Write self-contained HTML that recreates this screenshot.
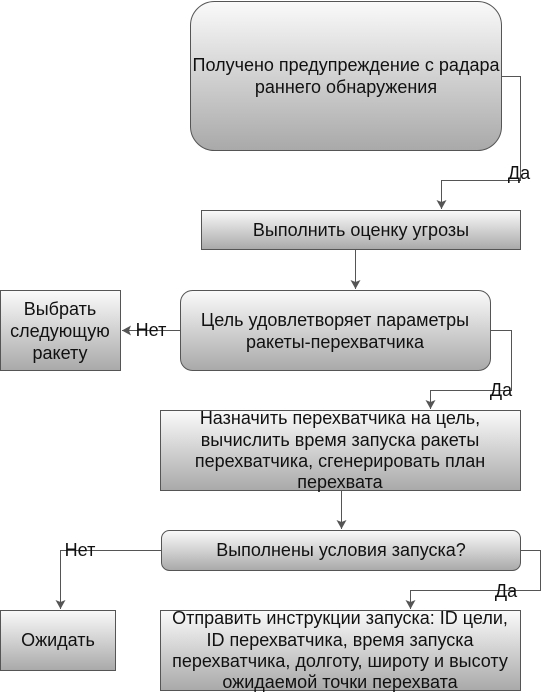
<!DOCTYPE html>
<html><head><meta charset="utf-8"><style>
html,body{margin:0;padding:0;background:#fff;}
svg{display:block;font-family:"Liberation Sans",Arial,sans-serif;}
text{font-size:18px;fill:#111;text-anchor:middle;}
</style></head><body>
<svg width="549" height="693" viewBox="0 0 549 693" xmlns="http://www.w3.org/2000/svg">
<defs>
<linearGradient id="g" x1="0" y1="0" x2="0" y2="1"><stop offset="0" stop-color="#fafafa"/><stop offset="1" stop-color="#a9a9a9"/></linearGradient>
<marker id="a" markerWidth="10" markerHeight="10" refX="9" refY="5" orient="auto" markerUnits="userSpaceOnUse"><path d="M0,0 L9,5 L0,10 L2,5 Z" fill="#555"/></marker>
</defs>
<g stroke="#555" stroke-width="1" fill="url(#g)">
<rect x="190.5" y="1.5" width="311" height="149" rx="24"/>
<rect x="201.5" y="210.5" width="319" height="39"/>
<rect x="180.5" y="290.5" width="310" height="80" rx="12"/>
<rect x="0.5" y="290.5" width="120" height="80"/>
<rect x="160.5" y="410.5" width="360" height="80"/>
<rect x="161.5" y="530.5" width="359" height="40" rx="8"/>
<rect x="0.5" y="610.5" width="115" height="60"/>
<rect x="160.5" y="610.5" width="360" height="80"/>
</g>
<g stroke="#555" stroke-width="1" fill="none">
<path d="M501.5,76.5 H520.5 V180.5 H441.5 V209" marker-end="url(#a)"/>
<path d="M355.5,250 V289" marker-end="url(#a)"/>
<path d="M490.5,330.5 H511.5 V390.5 H430.5 V409" marker-end="url(#a)"/>
<path d="M180.5,330.5 H122" marker-end="url(#a)"/>
<path d="M341.5,491 V529" marker-end="url(#a)"/>
<path d="M161.5,550.5 H60.5 V609" marker-end="url(#a)"/>
<path d="M520.5,550.5 H540.5 V590.5 H410.5 V609" marker-end="url(#a)"/>
</g>
<text x="346" y="71">Получено предупреждение с радара</text>
<text x="346" y="93">раннего обнаружения</text>
<text x="361" y="236">Выполнить оценку угрозы</text>
<text x="335" y="326">Цель удовлетворяет параметры</text>
<text x="335" y="348">ракеты-перехватчика</text>
<text x="60" y="315">Выбрать</text>
<text x="60" y="337">следующую</text>
<text x="60" y="359">ракету</text>
<text x="151" y="336">Нет</text>
<text x="519" y="179">Да</text>
<text x="501" y="396">Да</text>
<text x="340" y="424">Назначить перехватчика на цель,</text>
<text x="340" y="446">вычислить время запуска ракеты</text>
<text x="340" y="467">перехватчика, сгенерировать план</text>
<text x="340" y="488">перехвата</text>
<text x="341" y="556">Выполнены условия запуска?</text>
<text x="80" y="556">Нет</text>
<text x="506" y="597">Да</text>
<text x="58" y="646">Ожидать</text>
<text x="340" y="624">Отправить инструкции запуска: ID цели,</text>
<text x="340" y="646">ID перехватчика, время запуска</text>
<text x="340" y="667">перехватчика, долготу, широту и высоту</text>
<text x="340" y="688">ожидаемой точки перехвата</text>
</svg>
</body></html>
